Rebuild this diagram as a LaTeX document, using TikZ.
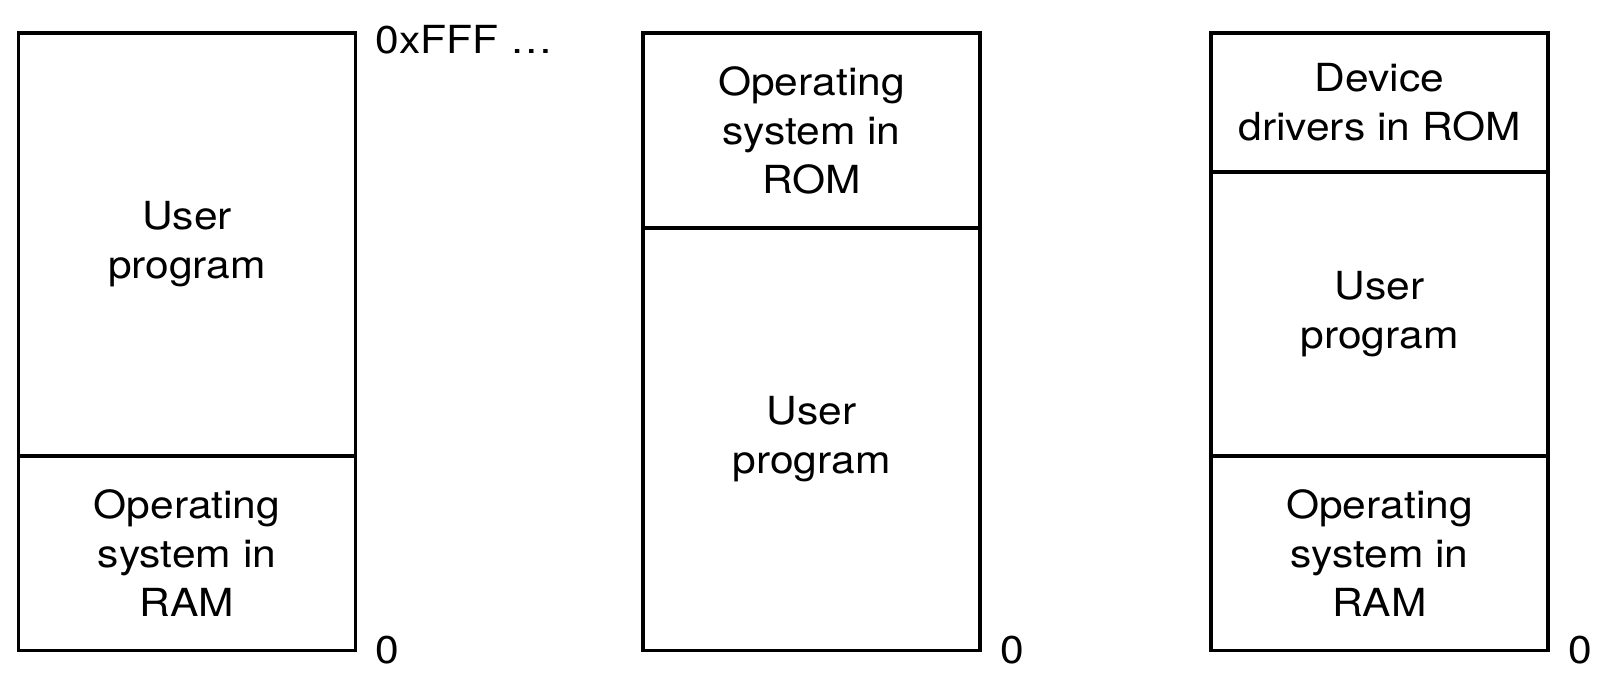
\documentclass[tikz,border=0pt]{standalone}
\usepackage{fontspec}
\setmainfont[FakeStretch=1.1]{TeX Gyre Heros}
\usepackage{tikz}
\usetikzlibrary{positioning}

\begin{document}
\begin{tikzpicture}[
  memblock/.style={draw=black, line width=1.8pt, outer sep=0pt, inner sep=0pt,
    minimum width=6.74cm, align=center, font=\fontsize{22}{27.8}\selectfont},
  addr/.style={anchor=west, inner sep=0pt, font=\fontsize{22}{27.8}\selectfont}]

\useasboundingbox (0,0) rectangle (32.28,13.92);

% Left: OS in RAM
\node[memblock, minimum height=8.46cm, anchor=north west] (userA) at (0.37,13.26) {User\\program};
\node[memblock, minimum height=3.89cm, below=0pt of userA] (ramA) {Operating\\system in\\RAM};

% Middle: OS in ROM
\node[memblock, minimum height=3.9cm, anchor=north west] (romB) at (12.86,13.26) {Operating\\system in\\ROM};
\node[memblock, minimum height=8.45cm, below=0pt of romB] (userB) {User\\program};

% Right: drivers in ROM, OS in RAM
\node[memblock, minimum height=2.78cm, anchor=north west] (romC) at (24.22,13.26) {Device\\drivers in ROM};
\node[memblock, minimum height=5.68cm, below=0pt of romC] (userC) {User\\program};
\node[memblock, minimum height=3.89cm, below=0pt of userC] (ramC) {Operating\\system in\\RAM};

% Addresses
\node[addr, xshift=0.4cm, yshift=-0.14cm] (topA) at (userA.north east) {0xFFF \ldots};
\node[addr, xshift=0.4cm] (zeroA) at (ramA.south east) {0};
\node[addr, xshift=0.4cm] (zeroB) at (userB.south east) {0};
\node[addr, xshift=0.4cm] (zeroC) at (ramC.south east) {0};

\end{tikzpicture}
\end{document}
